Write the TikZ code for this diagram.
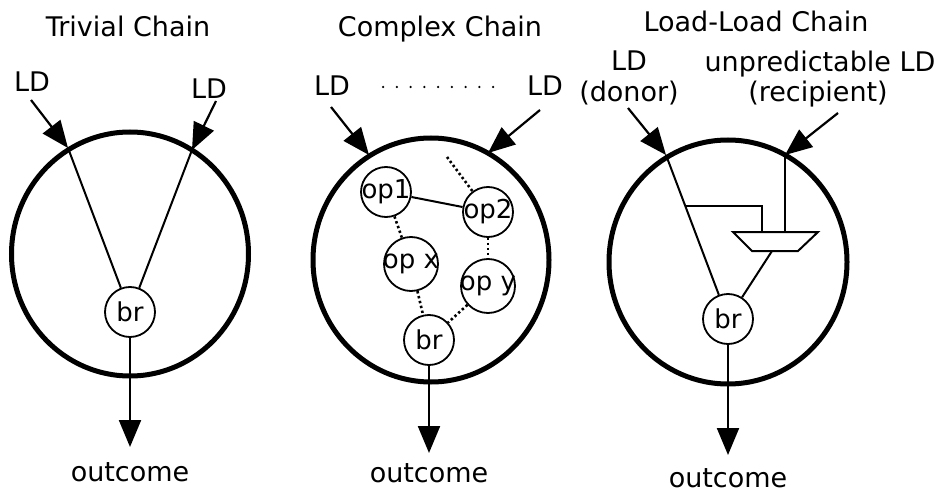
\documentclass[tikz,border=0pt]{standalone}
\usepackage{fontspec}
\setmainfont{DejaVu Sans}
\usetikzlibrary{arrows.meta,shapes.geometric,calc}
\begin{document}
\begin{tikzpicture}[x=1pt,y=-1pt,
  ring/.style={ellipse, draw, line width=5pt, inner sep=0pt},
  opnode/.style={circle, draw, line width=1.8pt, inner sep=0pt, fill=white,
    font=\fontsize{26}{31}\selectfont},
  txt/.style={font=\fontsize{27}{32}\selectfont, inner sep=0pt, anchor=base},
  feed/.style={line width=2.2pt, -{Triangle[length=27pt,width=22pt]}},
  wire/.style={line width=2pt},
  dep/.style={line width=2.6pt, dash pattern=on 2.4pt off 2.6pt},
]
\useasboundingbox (0,0) rectangle (935,492);

% ---------------- Trivial chain ----------------
\node[txt] (title1) at (128,37) {Trivial Chain};
\node[ring, minimum width=237pt, minimum height=244pt] (c1) at (130,254) {};
\node[txt] (ld1a) at (32,92) {LD};
\node[txt] (ld1b) at (209,99) {LD};
\coordinate (s1a) at (31,100);  \coordinate (t1a) at (68,148);
\coordinate (s1b) at (216,101); \coordinate (t1b) at (192,150);
\node[opnode, minimum size=50pt] (br1) at (130,312) {\makebox[0pt]{br}};
\draw[feed] (s1a) -- (t1a);
\draw[feed] (s1b) -- (t1b);
\draw[wire] (t1a) -- (br1);
\draw[wire] (t1b) -- (br1);
\coordinate (o1) at (130,447);
\draw[feed] (br1) -- (o1);
\node[txt] (out1) at (130,481) {outcome};

% ---------------- Complex chain ----------------
\node[txt] (title2) at (440,37) {Complex Chain};
\node[ring, minimum width=236pt, minimum height=244pt] (c2) at (431,260) {};
\node[txt] (ld2a) at (332,96) {LD};
\node[txt] (ld2b) at (545,96) {LD};
\draw[line width=2.5pt, line cap=round, dash pattern=on 0pt off 13.75pt] (383,87) -- (493,87);
\coordinate (s2a) at (331,107); \coordinate (t2a) at (369,155);
\coordinate (s2b) at (540,110); \coordinate (t2b) at (488,153);
\draw[feed] (s2a) -- (t2a);
\draw[feed] (s2b) -- (t2b);
\node[opnode, minimum size=50pt] (op1) at (386,192) {\makebox[0pt]{op1}};
\node[opnode, minimum size=50pt] (op2) at (488,212) {\makebox[0pt]{op2}};
\node[opnode, minimum size=54pt] (opx) at (411,264) {\makebox[0pt]{op x}};
\node[opnode, minimum size=54pt] (opy) at (488,286) {\makebox[0pt]{op y}};
\node[opnode, minimum size=50pt] (br2) at (429,340) {\makebox[0pt]{br}};
\coordinate (more) at (447,157);
\draw[wire] (op1) -- (op2);
\draw[dep] (more) -- (op2);
\draw[dep] (op1) -- (opx);
\draw[dep] (op2) -- (opy);
\draw[dep] (opx) -- (br2);
\draw[dep] (opy) -- (br2);
\coordinate (o2) at (429,453);
\draw[feed] (br2) -- (o2);
\node[txt] (out2) at (429,482) {outcome};

% ---------------- Load-load chain ----------------
\node[txt] (title3) at (756,32) {Load-Load Chain};
\node[ring, minimum width=238pt, minimum height=244pt] (c3) at (728,262) {};
\node[txt] (donor) at (629,71) {LD};
\node[txt] (donorb) at (629,102) {(donor)};
\node[txt] (recip) at (820,72) {unpredictable LD};
\node[txt] (recipb) at (818,102) {(recipient)};
\coordinate (s3a) at (628,108); \coordinate (t3a) at (666,155);
\coordinate (s3b) at (838,113); \coordinate (t3b) at (785,155);
\draw[feed] (s3a) -- (t3a);
\draw[feed] (s3b) -- (t3b);
\node[opnode, minimum size=50pt] (br3) at (728,319) {\makebox[0pt]{br}};
\draw[wire] (t3a) -- (br3);
% value-prediction mux fed by the donor and the recipient load
\coordinate (muxa) at (762,232);
\coordinate (muxb) at (785,232);
\coordinate (muxo) at (772,251);
\draw[wire] (733,232) -- (818,232) -- (798,251) -- (752,251) -- cycle;
\coordinate (tap) at ($(t3a)!0.314!(br3)$);
\draw[wire] (tap) -| (muxa);
\draw[wire] (t3b) -- (muxb);
\draw[wire] (muxo) -- (br3);
\coordinate (o3) at (728,455);
\draw[feed] (br3) -- (o3);
\node[txt] (out3) at (728,487) {outcome};
\end{tikzpicture}
\end{document}
